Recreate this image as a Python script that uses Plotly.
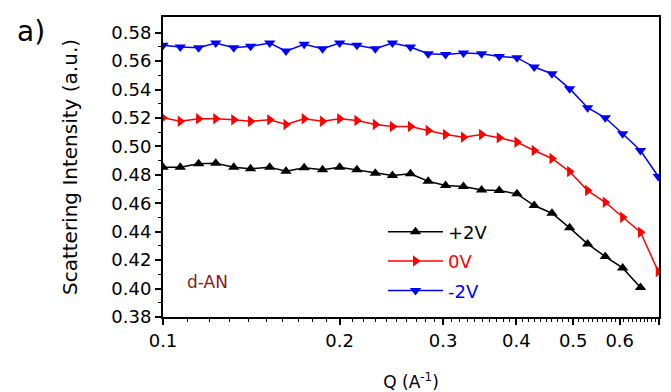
import plotly.graph_objects as go

# Q values (A^-1)
q = [0.100, 0.107, 0.115, 0.123, 0.132, 0.141, 0.152, 0.162, 0.174, 0.187,
     0.200, 0.214, 0.230, 0.246, 0.264, 0.283, 0.303, 0.325, 0.349, 0.374,
     0.401, 0.429, 0.460, 0.493, 0.529, 0.567, 0.607, 0.651, 0.698]

plus2V = [0.4854, 0.4854, 0.4877, 0.4882, 0.4854, 0.4842, 0.4854, 0.4825, 0.4849, 0.4835,
          0.4854, 0.4835, 0.4811, 0.4795, 0.4807, 0.4755, 0.4725, 0.4718, 0.4694, 0.4689,
          0.4666, 0.4584, 0.4530, 0.4427, 0.4314, 0.4225, 0.4145, 0.4008]
zeroV = [0.5201, 0.5177, 0.5194, 0.5194, 0.5187, 0.5177, 0.5187, 0.5154, 0.5194, 0.5177,
         0.5194, 0.5182, 0.5154, 0.5140, 0.5140, 0.5112, 0.5084, 0.5065, 0.5084, 0.5061,
         0.5030, 0.4971, 0.4915, 0.4823, 0.4689, 0.4607, 0.4501, 0.4396, 0.4120]
minus2V = [0.5711, 0.5699, 0.5694, 0.5727, 0.5694, 0.5704, 0.5727, 0.5670, 0.5718, 0.5687,
           0.5727, 0.5711, 0.5687, 0.5727, 0.5699, 0.5652, 0.5647, 0.5656, 0.5652, 0.5633,
           0.5624, 0.5558, 0.5511, 0.5406, 0.5272, 0.5201, 0.5089, 0.4971, 0.4788]

x_ticks = [0.1, 0.2, 0.3, 0.4, 0.5, 0.6, 0.7]
x_ticktext = ["0.1", "0.2", "0.3", "0.4", "0.5", "0.6", "0.7"]
y_ticks = [0.38, 0.40, 0.42, 0.44, 0.46, 0.48, 0.50, 0.52, 0.54, 0.56, 0.58]
y_ticktext = ["0.38", "0.40", "0.42", "0.44", "0.46", "0.48", "0.50", "0.52", "0.54", "0.56", "0.58"]

series = [
    ("+2V", plus2V, "black", "triangle-up", "g1"),
    ("0V", zeroV, "red", "triangle-right", "g2"),
    ("-2V", minus2V, "blue", "triangle-down", "g3"),
]

FONT = "DejaVu Sans"

fig = go.Figure()
for name, ys, color, sym, grp in series:
    fig.add_trace(go.Scatter(
        x=q[:len(ys)], y=ys, mode="lines+markers",
        name=f"<span style='color:{color}'>{name}</span>",
        legendgroup=grp,
        line=dict(color=color, width=1.5),
        marker=dict(symbol=sym, size=10, color=color),
    ))

minor_x = [round(a / 100, 2) for a in range(11, 70) if a % 10 != 0]
minor_y = [round(0.39 + 0.02 * i, 2) for i in range(10)]

fig.update_layout(
    width=671, height=392,
    margin=dict(l=163, r=12, t=17, b=75),
    paper_bgcolor="white", plot_bgcolor="white",
    font=dict(family=FONT, color="black"),
    showlegend=True,
    legend=dict(x=0.4435, y=0.345, xanchor="left", yanchor="top",
                bgcolor="rgba(0,0,0,0)", font=dict(size=18, family=FONT),
                traceorder="grouped", tracegroupgap=3, itemwidth=55),
    xaxis=dict(type="log", range=[-1, -0.1549], automargin=False,
               tickvals=x_ticks, ticktext=x_ticktext,
               ticks="outside", ticklen=6, tickwidth=1.5, tickcolor="black",
               tickfont=dict(size=18, family=FONT),
               showline=True, linecolor="black", linewidth=2, mirror=True,
               showgrid=False, zeroline=False,
               minor=dict(tickvals=minor_x, ticks="outside", ticklen=3, tickcolor="black", tickwidth=1),
               title=dict(text="Q (A<sup>-1</sup>)", font=dict(size=17, family=FONT), standoff=27)),
    yaxis=dict(range=[0.38, 0.591], automargin=False,
               tickvals=y_ticks, ticktext=y_ticktext,
               ticks="outside", ticklen=6, tickwidth=1.5, tickcolor="black",
               tickfont=dict(size=18, family=FONT),
               showline=True, linecolor="black", linewidth=2, mirror=True,
               showgrid=False, zeroline=False,
               minor=dict(tickvals=minor_y, ticks="outside", ticklen=3, tickcolor="black", tickwidth=1),
               title=dict(text="Scattering Intensity (a.u.)", font=dict(size=20, family=FONT), standoff=28)),
    annotations=[
        dict(text="a)", xref="paper", yref="paper", x=-0.266, y=0.953, xanchor="center", yanchor="middle",
             showarrow=False, font=dict(size=28, family=FONT, color="black")),
        dict(text="d-AN", xref="paper", yref="paper", x=0.089, y=0.117, xanchor="center", yanchor="middle",
             showarrow=False, font=dict(size=17, family=FONT, color="#8B1A1A")),
    ],
)

fig.write_html("out.html")
